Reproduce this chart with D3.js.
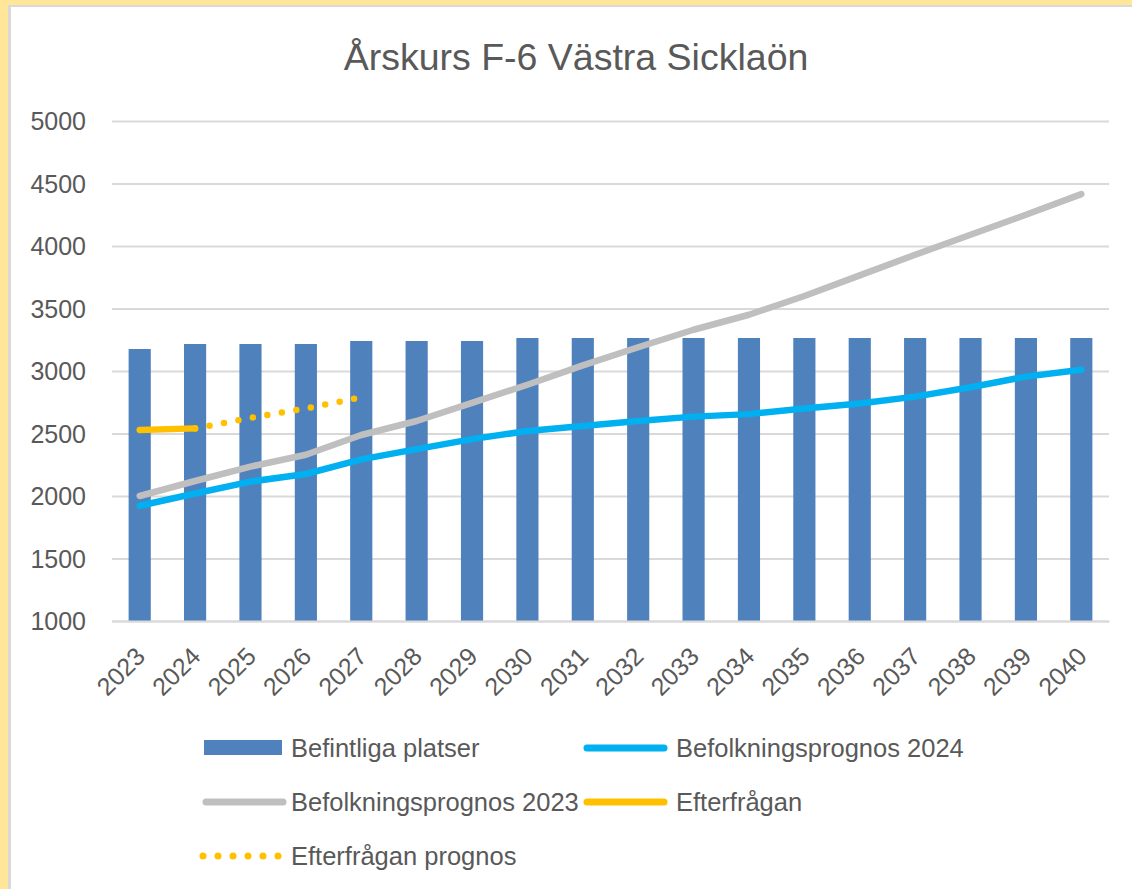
<!DOCTYPE html>
<html><head><meta charset="utf-8">
<script src="https://cdn.jsdelivr.net/npm/d3@7"></script>
<style>
html,body{margin:0;padding:0;background:#FFE699;}
svg{display:block;}
text{font-family:"Liberation Sans",Arial,sans-serif;fill:#595959;}
</style></head>
<body>
<script>
const years = ["2023","2024","2025","2026","2027","2028","2029","2030","2031","2032","2033","2034","2035","2036","2037","2038","2039","2040"];
const befintligaPlatser = [3176,3216,3216,3216,3240,3240,3240,3264,3264,3264,3264,3264,3264,3264,3264,3264,3264,3264];
const befolkningsprognos2024 = [1922,2020,2115,2176,2293,2375,2455,2520,2560,2600,2635,2655,2700,2740,2795,2870,2955,3010];
const befolkningsprognos2023 = [2000,2120,2235,2330,2488,2600,2745,2890,3045,3190,3330,3450,3600,3765,3930,4090,4250,4415];
const efterfragan = [2528,2541,null,null,null,null,null,null,null,null,null,null,null,null,null,null,null,null];
const efterfraganPrognos = [null,2541,2625,2700,2790,null,null,null,null,null,null,null,null,null,null,null,null,null];
const yTicks = [1000,1500,2000,2500,3000,3500,4000,4500,5000];
const title = "Årskurs F-6 Västra Sicklaön";
const legendItems = [
  {name:"Befintliga platser", type:"bar", color:"#4F81BD"},
  {name:"Befolkningsprognos 2024", type:"line", color:"#00B0F0"},
  {name:"Befolkningsprognos 2023", type:"line", color:"#BFBFBF"},
  {name:"Efterfrågan", type:"line", color:"#FFC000"},
  {name:"Efterfrågan prognos", type:"dot", color:"#FFC000"}
];

const W = 1132, H = 889;
const svg = d3.select("body").append("svg").attr("width", W).attr("height", H);

// frame
svg.append("rect").attr("x",0).attr("y",0).attr("width",W).attr("height",H).attr("fill","#FFE699");
svg.append("rect").attr("x",8).attr("y",5).attr("width",W-8).attr("height",H-5).attr("fill","#D9D9D9");
svg.append("rect").attr("x",11).attr("y",7).attr("width",W-11).attr("height",H-7).attr("fill","#FFFFFF");

const x = d3.scaleBand().domain(years).range([112,1109]).paddingInner(0.6).paddingOuter(0.3);
const y = d3.scaleLinear().domain([1000,5000]).range([621,121]);

// title
svg.append("text").attr("x",576).attr("y",70).attr("text-anchor","middle")
  .style("font-size","37.5px").text(title);

// gridlines
const yAxis = d3.axisLeft(y).tickValues(yTicks).tickSize(-(1109-112)).tickPadding(26).tickFormat(d3.format("d"));
const gy = svg.append("g").attr("transform","translate(112,0)").call(yAxis);
gy.select(".domain").remove();
gy.selectAll(".tick line").attr("stroke","#D9D9D9").attr("stroke-width",2);
gy.selectAll(".tick text").style("font-size","25px").attr("fill","#595959").attr("dy","0.35em");

// bars
svg.append("g").selectAll("rect").data(years).join("rect")
  .attr("x", d => x(d)).attr("width", x.bandwidth())
  .attr("y", (d,i) => y(befintligaPlatser[i]))
  .attr("height", (d,i) => y(1000) - y(befintligaPlatser[i]))
  .attr("fill","#4F81BD");

// x axis labels
const xAxis = d3.axisBottom(x).tickSize(0).tickPadding(0);
const gx = svg.append("g").attr("transform","translate(0,621)").call(xAxis);
gx.select(".domain").attr("stroke","#D9D9D9").attr("stroke-width",2);
gx.selectAll(".tick text").style("font-size","25px").attr("fill","#595959")
  .attr("text-anchor","end").attr("y",0).attr("dy",0)
  .attr("transform","translate(7,37) rotate(-45)");

const cx = (d,i) => x(years[i]) + x.bandwidth()/2;
function drawLine(vals, color, width, dash){
  const line = d3.line().defined(v => v !== null).x((v,i) => cx(null,i)).y(v => y(v));
  const p = svg.append("path").datum(vals).attr("d", line).attr("fill","none")
    .attr("stroke", color).attr("stroke-width", width)
    .attr("stroke-linecap","round").attr("stroke-linejoin","round");
  if (dash) p.attr("stroke-dasharray", dash);
}
drawLine(befolkningsprognos2023, "#BFBFBF", 6.5);
drawLine(befolkningsprognos2024, "#00B0F0", 6.5);
drawLine(efterfragan, "#FFC000", 6.5);
drawLine(efterfraganPrognos, "#FFC000", 6.5, "0 14.7");

// legend
const legendPos = [
  {sx:203, tx:291, y:748},
  {sx:584, tx:676, y:748},
  {sx:203, tx:291, y:802},
  {sx:584, tx:676, y:802},
  {sx:203, tx:291, y:856}
];
const lg = svg.append("g");
legendItems.forEach((it, i) => {
  const p = legendPos[i];
  if (it.type === "bar") {
    lg.append("rect").attr("x",p.sx+1).attr("y",p.y-8).attr("width",78).attr("height",15).attr("fill",it.color);
  } else if (it.type === "line") {
    lg.append("line").attr("x1",p.sx+3).attr("x2",p.sx+80).attr("y1",p.y).attr("y2",p.y)
      .attr("stroke",it.color).attr("stroke-width",7).attr("stroke-linecap","round");
  } else {
    lg.append("line").attr("x1",p.sx).attr("x2",p.sx+80).attr("y1",p.y).attr("y2",p.y)
      .attr("stroke",it.color).attr("stroke-width",7).attr("stroke-linecap","round")
      .attr("stroke-dasharray","0 15");
  }
  lg.append("text").attr("x",p.tx).attr("y",p.y+9).style("font-size","25.5px").text(it.name);
});
</script>
</body></html>
